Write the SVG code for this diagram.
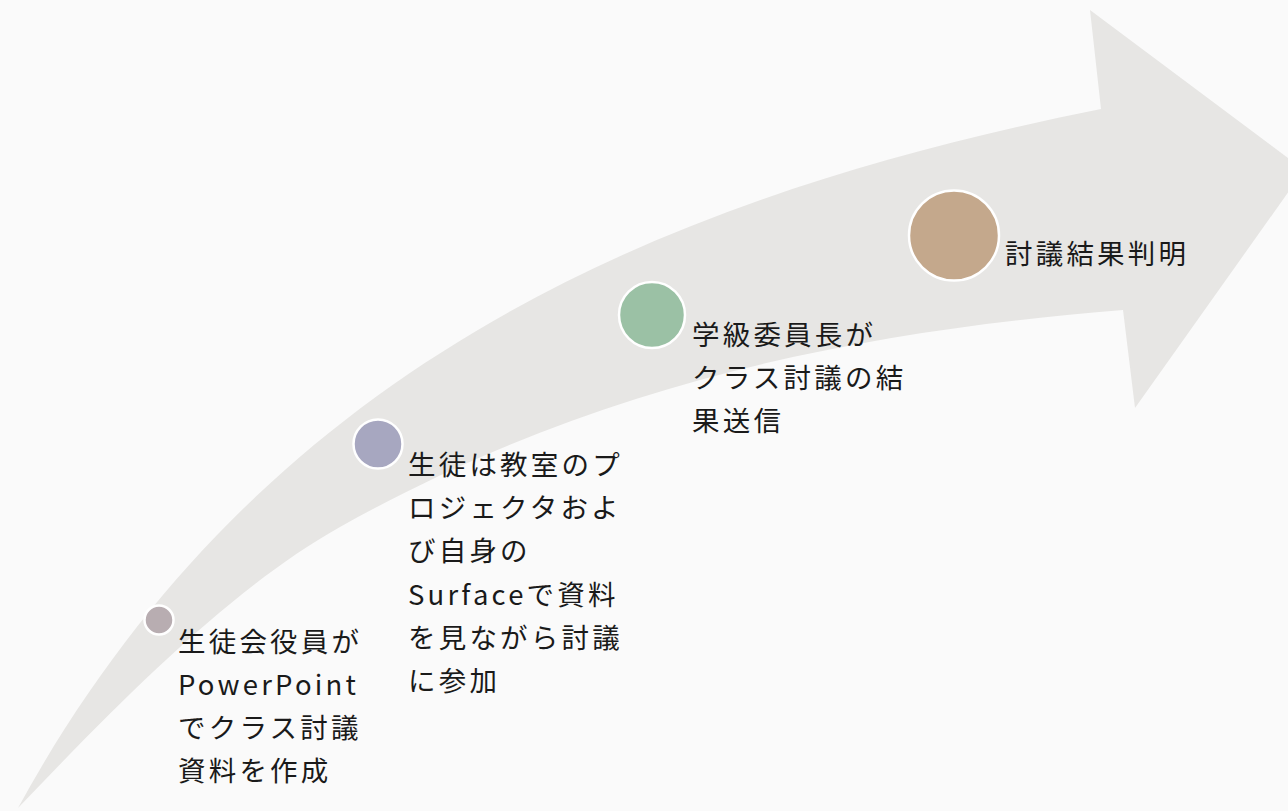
<svg xmlns="http://www.w3.org/2000/svg" width="1288" height="811" viewBox="0 0 1288 811">
  <style>
    .bg { fill: #fafafa; }
    .arrow { fill: #e7e6e4; }
    .dot { stroke: #ffffff; stroke-width: 2.5; }
    .lbl { font-family: "Noto Sans CJK JP", "Noto Sans", sans-serif; font-size: 27.5px; letter-spacing: 3.2px; fill: #1a1a1a; }
  </style>
  <rect class="bg" x="0" y="0" width="1288" height="811"/>
  <g id="arrow">
    <path class="arrow" d="M18,808 C257,371 651,199 1101,109 L1090,10 L1304,170 L1135,408 L1123,310 C863,331 600,381 340,527 C233,587 125,696 18,808 Z"/>
  </g>
  <g id="step1">
    <circle class="dot" cx="159" cy="620" r="14.5" fill="#b8adb1"/>
    <text class="lbl">
      <tspan x="178" y="652">生徒会役員が</tspan>
      <tspan x="178" y="695">PowerPoint</tspan>
      <tspan x="178" y="738">でクラス討議</tspan>
      <tspan x="178" y="781">資料を作成</tspan>
    </text>
  </g>
  <g id="step2">
    <circle class="dot" cx="378" cy="444" r="24.5" fill="#a7a7c0"/>
    <text class="lbl">
      <tspan x="408" y="475">生徒は教室のプ</tspan>
      <tspan x="408" y="518">ロジェクタおよ</tspan>
      <tspan x="408" y="561">び自身の</tspan>
      <tspan x="408" y="605">Surfaceで資料</tspan>
      <tspan x="408" y="648">を見ながら討議</tspan>
      <tspan x="408" y="691">に参加</tspan>
    </text>
  </g>
  <g id="step3">
    <circle class="dot" cx="652" cy="315" r="33" fill="#9bc1a5"/>
    <text class="lbl">
      <tspan x="692" y="345">学級委員長が</tspan>
      <tspan x="692" y="388">クラス討議の結</tspan>
      <tspan x="692" y="431">果送信</tspan>
    </text>
  </g>
  <g id="step4">
    <circle class="dot" cx="954" cy="235.5" r="45" fill="#c4a88c"/>
    <text class="lbl" x="1005" y="264">討議結果判明</text>
  </g>
</svg>
